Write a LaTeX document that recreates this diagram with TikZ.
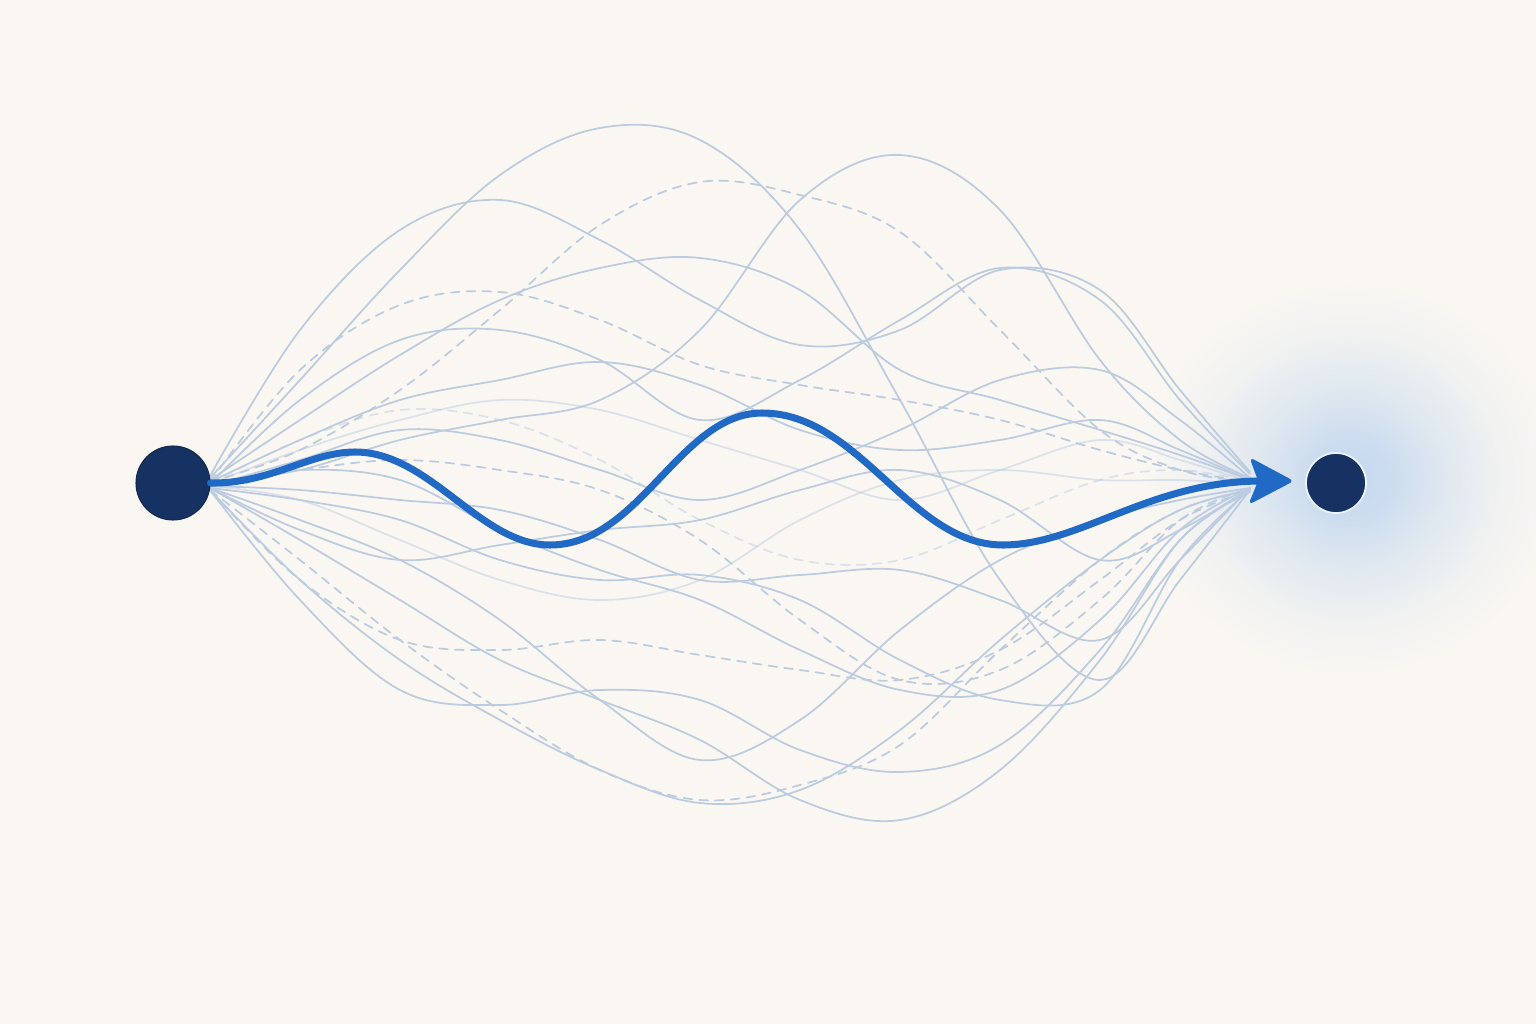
\documentclass[tikz,border=0pt]{standalone}
\usetikzlibrary{arrows.meta}
\definecolor{bg}{RGB}{250,247,242}
\definecolor{faintc}{RGB}{188,204,224}
\definecolor{navy}{RGB}{22,50,98}
\definecolor{pathblue}{RGB}{32,106,198}
\definecolor{glowc}{RGB}{196,216,238}
\pgfdeclareradialshading{glow}{\pgfpoint{0bp}{0bp}}{color(0bp)=(glowc); color(5bp)=(glowc!85!bg); color(11bp)=(glowc!50!bg); color(18bp)=(glowc!18!bg); color(25bp)=(bg); color(50bp)=(bg)}
\begin{document}
\begin{tikzpicture}[x=0.02cm,y=-0.02cm,
  faint/.style={draw=faintc, line width=1.0pt, line cap=round},
  faintd/.style={faint, dash pattern=on 5pt off 4pt},
  vfaint/.style={faint, draw opacity=0.5},
  endpt/.style={circle, fill=navy, draw=navy!80!black, line width=0.6pt, inner sep=0pt},
  mainpath/.style={draw=pathblue, line width=4pt, line cap=round},
  headstyle/.style={fill=pathblue, draw=pathblue, line width=1pt, line join=round, rounded corners=1.5pt}]
\fill[bg] (0,0) rectangle (1536,1024);
\useasboundingbox (0,0) rectangle (1536,1024);
\shade[shading=glow] (1350,478) ellipse [x radius=210, y radius=200];
\coordinate (tip) at (1292,481);
\coordinate (tail) at (1262,481);
\coordinate (hu) at (1251,459);
\coordinate (hn) at (1259,481);
\coordinate (hl) at (1250,503);
% faint solid upper
\draw[faint] plot[smooth, tension=0.6] coordinates {(210,478)(300,380)(400,270)(500,175)(600,128)(700,140)(800,230)(900,400)(1000,580)(1100,680)(1180,580)(1250,490)};
\draw[faint] plot[smooth, tension=0.6] coordinates {(210,476)(300,330)(400,230)(500,200)(600,240)(700,300)(800,345)(900,330)(1000,270)(1100,290)(1180,390)(1250,472)};
\draw[faint] plot[smooth, tension=0.6] coordinates {(210,482)(300,470)(400,440)(500,420)(600,400)(700,330)(800,200)(900,155)(1000,210)(1100,360)(1180,440)(1250,478)};
\draw[faint] plot[smooth, tension=0.6] coordinates {(210,480)(300,420)(400,355)(500,300)(600,268)(700,258)(800,290)(900,370)(1000,400)(1100,430)(1180,455)(1250,480)};
\draw[faint] plot[smooth, tension=0.6] coordinates {(210,484)(300,400)(400,340)(500,330)(600,360)(700,420)(800,380)(900,320)(1000,268)(1100,300)(1180,400)(1250,474)};
\draw[faint] plot[smooth, tension=0.6] coordinates {(210,482)(300,440)(400,400)(500,380)(600,362)(700,385)(800,430)(900,450)(1000,440)(1100,420)(1180,450)(1250,480)};
\draw[faint] plot[smooth, tension=0.6] coordinates {(210,486)(300,460)(400,430)(500,440)(600,470)(700,500)(800,470)(900,430)(1000,380)(1100,370)(1180,420)(1250,478)};
% faint dashed upper
\draw[faintd] plot[smooth, tension=0.6] coordinates {(210,482)(300,450)(400,390)(500,310)(600,225)(700,182)(800,195)(900,232)(1000,330)(1100,430)(1180,470)(1250,482)};
\draw[faintd] plot[smooth, tension=0.6] coordinates {(210,482)(300,370)(400,305)(500,292)(600,320)(700,365)(800,385)(900,400)(1000,420)(1100,450)(1180,470)(1250,482)};
% faint solid lower
\draw[faint] plot[smooth, tension=0.6] coordinates {(210,490)(300,580)(400,660)(500,720)(600,770)(700,803)(800,790)(900,730)(1000,640)(1100,560)(1180,510)(1250,490)};
\draw[faint] plot[smooth, tension=0.6] coordinates {(210,488)(300,540)(400,600)(500,660)(600,700)(700,740)(800,800)(900,820)(1000,770)(1100,660)(1180,540)(1250,492)};
\draw[faint] plot[smooth, tension=0.6] coordinates {(210,488)(300,520)(400,560)(500,620)(600,700)(700,760)(800,720)(900,630)(1000,560)(1100,520)(1180,500)(1250,488)};
\draw[faint] plot[smooth, tension=0.6] coordinates {(210,490)(300,600)(400,690)(500,705)(600,690)(700,700)(800,750)(900,772)(1000,745)(1100,650)(1180,540)(1250,490)};
\draw[faint] plot[smooth, tension=0.6] coordinates {(210,488)(300,500)(400,520)(500,560)(600,580)(700,575)(800,600)(900,660)(1000,700)(1100,690)(1180,560)(1250,490)};
\draw[faint] plot[smooth, tension=0.6] coordinates {(210,486)(300,470)(400,480)(500,530)(600,570)(700,600)(800,650)(900,690)(1000,690)(1100,620)(1180,530)(1250,488)};
\draw[faint] plot[smooth, tension=0.6] coordinates {(210,486)(300,490)(400,500)(500,510)(600,540)(700,580)(800,575)(900,570)(1000,600)(1100,640)(1180,560)(1250,488)};
\draw[faint] plot[smooth, tension=0.6] coordinates {(210,488)(300,530)(400,560)(500,545)(600,530)(700,520)(800,490)(900,470)(1000,500)(1100,560)(1180,530)(1250,488)};
% faint dashed lower
\draw[faintd] plot[smooth, tension=0.6] coordinates {(210,490)(300,580)(400,640)(500,650)(600,640)(700,655)(800,670)(900,680)(1000,650)(1100,580)(1180,520)(1250,490)};
\draw[faintd] plot[smooth, tension=0.6] coordinates {(210,490)(300,560)(400,640)(500,710)(600,770)(700,800)(800,785)(900,745)(1000,650)(1100,560)(1180,510)(1250,490)};
\draw[faintd] plot[smooth, tension=0.6] coordinates {(210,484)(300,470)(400,460)(500,470)(600,490)(700,540)(800,620)(900,680)(1000,670)(1100,600)(1180,520)(1250,488)};
% very faint
\draw[vfaint] plot[smooth, tension=0.6] coordinates {(210,484)(300,450)(400,420)(500,400)(600,410)(700,440)(800,470)(900,500)(1000,470)(1100,440)(1180,460)(1250,482)};
\draw[vfaint] plot[smooth, tension=0.6] coordinates {(210,486)(300,500)(400,540)(500,580)(600,600)(700,580)(800,520)(900,480)(1000,470)(1100,480)(1180,480)(1250,484)};
\draw[vfaint, dash pattern=on 5pt off 4pt] plot[smooth, tension=0.6] coordinates {(210,484)(300,440)(400,410)(500,420)(600,460)(700,520)(800,560)(900,560)(1000,520)(1100,480)(1180,470)(1250,482)};
% nodes
\node[endpt, minimum size=74*0.02cm] (A) at (173,483) {};
\node[endpt, minimum size=60*0.02cm, draw=white!70!glowc, line width=1pt] (B) at (1336,483) {};
% main path
\draw[mainpath] (A.east) .. controls (270,484) and (310,452) .. (355,452)
  .. controls (430,452) and (480,545) .. (550,545)
  .. controls (640,545) and (680,413) .. (762,413)
  .. controls (860,413) and (910,545) .. (1003,545)
  .. controls (1080,545) and (1150,481) .. (tail);
\filldraw[headstyle] (tip) -- (hu) -- (hn) -- (hl) -- cycle;
\end{tikzpicture}
\end{document}
